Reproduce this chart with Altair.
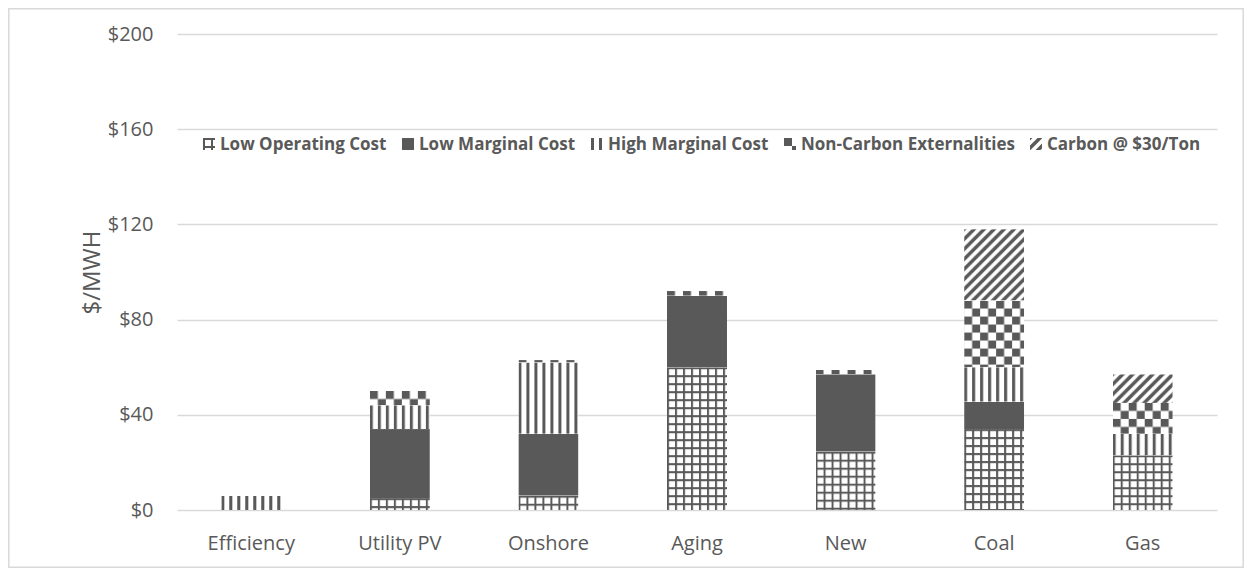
import altair as alt
import pandas as pd
from urllib.parse import quote

# ---- data ----
categories = ["Efficiency", "Utility PV", "Onshore", "Aging", "New", "Coal", "Gas"]
series = ["Low Operating Cost", "Low Marginal Cost", "High Marginal Cost",
          "Non-Carbon Externalities", "Carbon @ $30/Ton"]
low_operating = [0, 5, 6, 60, 24.5, 34, 23]
low_marginal = [0, 29, 26, 30, 32.5, 11.5, 0]
high_marginal = [6, 10, 30, 0, 0, 14.5, 9]
non_carbon = [0, 6, 1, 2, 2, 28, 13]
carbon = [0, 0, 0, 0, 0, 30, 12]
y_ticks = [0, 40, 80, 120, 160, 200]

# ---- styles ----
DARK = "#595959"
GRID = "#d9d9d9"
FONT = "Open Sans"


def tile(w, h, body):
    svg = ("<svg xmlns='http://www.w3.org/2000/svg' width='100%' height='100%'>"
           f"<defs><pattern id='p' width='{w}' height='{h}' patternUnits='userSpaceOnUse'>"
           f"<rect width='{w}' height='{h}' fill='white'/>{body}</pattern></defs>"
           "<rect width='100%' height='100%' fill='url(#p)'/></svg>")
    return "data:image/svg+xml," + quote(svg, safe="")


patterns = {
    "Low Operating Cost": tile(8, 8, f"<rect width='8' height='2' fill='{DARK}'/>"
                                     f"<rect width='2' height='8' fill='{DARK}'/>"),
    "Low Marginal Cost": tile(8, 8, f"<rect width='8' height='8' fill='{DARK}'/>"),
    "High Marginal Cost": tile(8, 8, f"<rect width='3' height='8' fill='{DARK}'/>"),
    "Non-Carbon Externalities": tile(16, 16, f"<rect width='8' height='8' fill='{DARK}'/>"
                                           f"<rect x='8' y='8' width='8' height='8' fill='{DARK}'/>"),
    "Carbon @ $30/Ton": tile(10, 10, f"<path d='M-2.5,2.5 l5,-5 M0,10 l10,-10 M7.5,12.5 l5,-5' "
                                    f"stroke='{DARK}' stroke-width='3.5'/>"),
}

rows = []
for i, c in enumerate(categories):
    for k, (s, vals) in enumerate(zip(series, [low_operating, low_marginal, high_marginal,
                                              non_carbon, carbon])):
        if vals[i] > 0:
            rows.append({"cat": c, "series": s, "order": k, "value": vals[i],
                         "url": patterns[s]})
df = pd.DataFrame(rows)

# legend layout (pixel positions relative to plot area)
legend_swatch_x = [26, 225, 414, 607, 853]
legend_text_x = [43, 242, 431, 624, 870]
legend_df = pd.DataFrame({"series": series, "sx": legend_swatch_x, "tx": legend_text_x,
                          "url": [patterns[s] for s in series]})

border = alt.Chart(pd.DataFrame({"a": [0]})).mark_rect(
    fill="white", fillOpacity=0, stroke=GRID, strokeWidth=1.5
).encode(
    x=alt.value(-168.2), x2=alt.value(1066.2), y=alt.value(-25.2), y2=alt.value(533.2)
)

bars = alt.Chart(df).transform_stack(
    stack="value", groupby=["cat"], as_=["y0", "y1"],
    sort=[alt.SortField("order", order="ascending")]
).mark_image(aspect=False).encode(
    x=alt.X("cat:N", sort=categories,
            scale=alt.Scale(paddingInner=0.596, paddingOuter=0.298),
            axis=alt.Axis(title=None, labelAngle=0, domain=False, ticks=False,
                          labelPadding=23, labelFontSize=20, labelColor=DARK,
                          labelFont=FONT, grid=False)),
    y=alt.Y("y1:Q", scale=alt.Scale(domain=[0, 200], nice=False),
            axis=alt.Axis(values=y_ticks, labelExpr="'$' + datum.value", grid=True,
                          gridColor=GRID, gridWidth=1.3, domain=False, ticks=False,
                          labelPadding=24, labelFontSize=20, labelColor=DARK,
                          labelFont=FONT, title="$/MWH", titleFont=FONT,
                          titleFontSize=24, titleFontWeight="normal", titleColor=DARK,
                          titleX=-85, titleY=238, titleAngle=-90,
                          titleAlign="center", titleBaseline="middle")),
    y2="y0:Q",
    url="url:N",
)

legend_sw = alt.Chart(legend_df).mark_image(
    aspect=False, width=12, height=12, align="left", baseline="top"
).encode(
    x=alt.X("sx:Q", scale=None), y=alt.value(104), url="url:N"
)

legend_txt = alt.Chart(legend_df).mark_text(
    align="left", baseline="middle", fontWeight="bold", fontSize=17,
    color=DARK, font=FONT
).encode(
    x=alt.X("tx:Q", scale=None), y=alt.value(111), text="series:N"
)

chart = alt.layer(border, bars, legend_sw, legend_txt).properties(
    width=1040, height=476,
    padding={"left": 169, "top": 26, "right": 27, "bottom": 58},
    autosize=alt.AutoSizeParams(type="none"),
).configure_view(stroke=None)

chart.save("out.html", embed_options={"renderer": "svg", "actions": False})
